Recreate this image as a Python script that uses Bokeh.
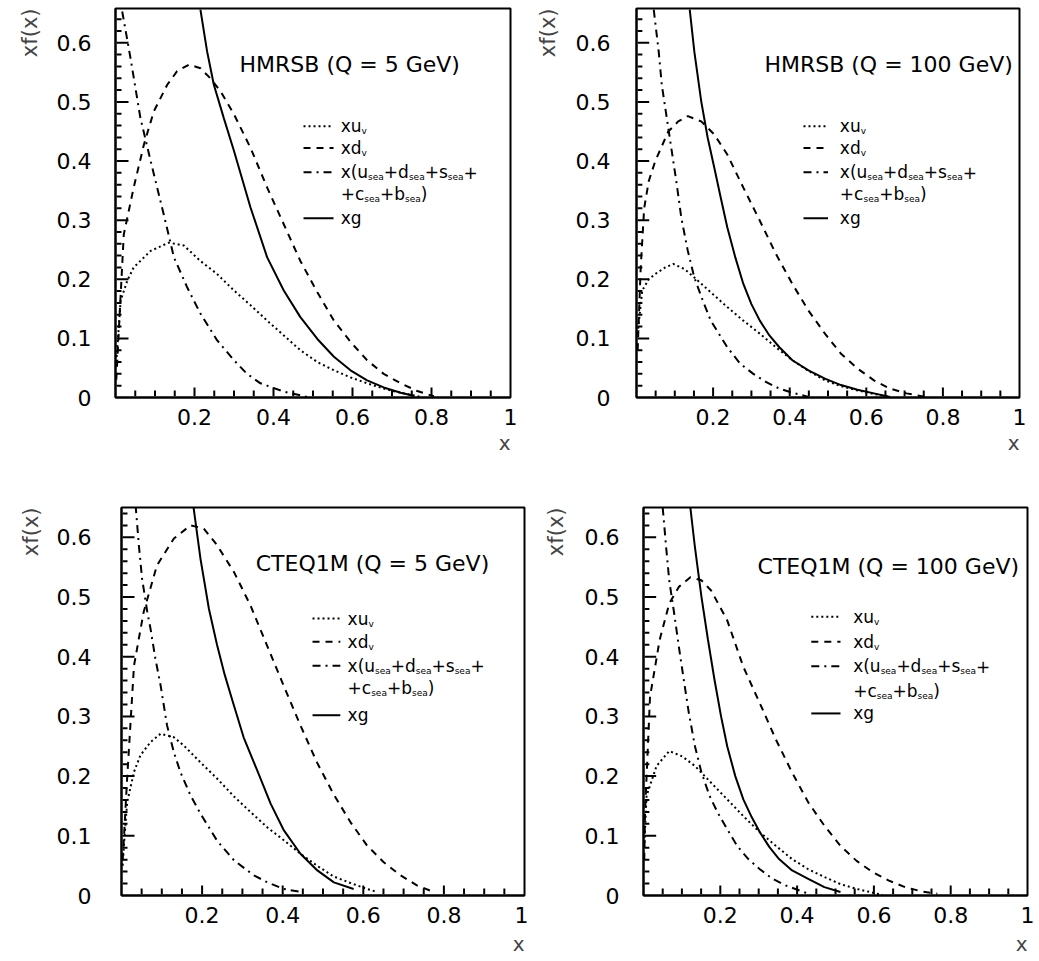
from bokeh.plotting import figure
from bokeh.models import Range1d, FixedTicker, NumeralTickFormatter, ColumnDataSource, Title
from bokeh.layouts import column, row
from bokeh.core.properties import value
from bokeh.embed import file_html
from bokeh.resources import INLINE

FONT = "DejaVu Sans"

# ---------------- data ----------------
titles = ["HMRSB (Q = 5 GeV)", "HMRSB (Q = 100 GeV)", "CTEQ1M (Q = 5 GeV)", "CTEQ1M (Q = 100 GeV)"]

# Panel 1: HMRSB, Q = 5 GeV
hm5_uv_x = [0.002, 0.013, 0.030, 0.046, 0.089, 0.135, 0.173, 0.215, 0.257, 0.30, 0.342, 0.384, 0.426, 0.468, 0.511, 0.553, 0.595, 0.637, 0.679, 0.722, 0.772]
hm5_uv_y = [0.06, 0.164, 0.198, 0.22, 0.248, 0.262, 0.257, 0.231, 0.209, 0.181, 0.156, 0.130, 0.105, 0.080, 0.060, 0.046, 0.034, 0.024, 0.015, 0.008, 0.001]
hm5_dv_x = [0.002, 0.008, 0.021, 0.046, 0.072, 0.097, 0.131, 0.156, 0.186, 0.215, 0.24, 0.266, 0.30, 0.342, 0.384, 0.426, 0.468, 0.511, 0.553, 0.595, 0.637, 0.679, 0.722, 0.764, 0.806]
hm5_dv_y = [0.03, 0.108, 0.276, 0.355, 0.428, 0.484, 0.529, 0.552, 0.563, 0.557, 0.54, 0.518, 0.479, 0.422, 0.355, 0.293, 0.231, 0.178, 0.130, 0.094, 0.063, 0.040, 0.024, 0.011, 0.002]
hm5_sea_x = [0.017, 0.038, 0.063, 0.089, 0.122, 0.148, 0.181, 0.215, 0.257, 0.30, 0.333, 0.367, 0.426, 0.485]
hm5_sea_y = [0.653, 0.574, 0.473, 0.40, 0.31, 0.237, 0.187, 0.142, 0.097, 0.063, 0.040, 0.024, 0.010, 0.001]
hm5_g_x = [0.215, 0.232, 0.249, 0.274, 0.30, 0.342, 0.384, 0.426, 0.468, 0.511, 0.553, 0.595, 0.637, 0.679, 0.722, 0.755]
hm5_g_y = [0.656, 0.585, 0.529, 0.473, 0.417, 0.321, 0.237, 0.181, 0.136, 0.099, 0.069, 0.046, 0.029, 0.017, 0.008, 0.003]

# Panel 2: HMRSB, Q = 100 GeV
hm100_uv_x = [0.003, 0.015, 0.032, 0.049, 0.075, 0.096, 0.126, 0.151, 0.194, 0.237, 0.279, 0.322, 0.364, 0.407, 0.449, 0.492, 0.534, 0.577, 0.62, 0.662]
hm100_uv_y = [0.108, 0.181, 0.20, 0.209, 0.22, 0.226, 0.217, 0.203, 0.178, 0.153, 0.130, 0.108, 0.085, 0.063, 0.045, 0.029, 0.019, 0.012, 0.006, 0.001]
hm100_dv_x = [0.003, 0.011, 0.02, 0.032, 0.049, 0.083, 0.109, 0.134, 0.169, 0.203, 0.237, 0.279, 0.322, 0.364, 0.407, 0.449, 0.492, 0.534, 0.577, 0.62, 0.662, 0.705, 0.764]
hm100_dv_y = [0.08, 0.22, 0.32, 0.366, 0.40, 0.45, 0.467, 0.476, 0.467, 0.445, 0.411, 0.355, 0.299, 0.243, 0.192, 0.147, 0.108, 0.074, 0.049, 0.029, 0.015, 0.007, 0.0]
hm100_sea_x = [0.045, 0.058, 0.066, 0.079, 0.092, 0.105, 0.117, 0.134, 0.151, 0.173, 0.194, 0.237, 0.271, 0.305, 0.339, 0.373, 0.407, 0.449]
hm100_sea_y = [0.656, 0.585, 0.529, 0.473, 0.417, 0.361, 0.304, 0.248, 0.203, 0.164, 0.130, 0.085, 0.057, 0.040, 0.026, 0.015, 0.008, 0.001]
hm100_g_x = [0.139, 0.151, 0.169, 0.186, 0.203, 0.220, 0.237, 0.258, 0.279, 0.30, 0.322, 0.347, 0.373, 0.407, 0.449, 0.492, 0.534, 0.577, 0.62, 0.662]
hm100_g_y = [0.656, 0.585, 0.501, 0.439, 0.389, 0.338, 0.288, 0.237, 0.192, 0.158, 0.130, 0.105, 0.085, 0.063, 0.046, 0.032, 0.021, 0.013, 0.007, 0.001]

# Panel 3: CTEQ1M, Q = 5 GeV
ct5_uv_x = [0.003, 0.006, 0.014, 0.031, 0.047, 0.072, 0.097, 0.13, 0.155, 0.196, 0.237, 0.279, 0.32, 0.362, 0.402, 0.444, 0.485, 0.526, 0.568, 0.609, 0.634]
ct5_uv_y = [0.05, 0.084, 0.156, 0.207, 0.235, 0.257, 0.271, 0.265, 0.251, 0.223, 0.196, 0.166, 0.14, 0.114, 0.093, 0.07, 0.05, 0.032, 0.021, 0.011, 0.006]
ct5_dv_x = [0.003, 0.014, 0.031, 0.055, 0.088, 0.13, 0.171, 0.204, 0.237, 0.279, 0.32, 0.361, 0.402, 0.444, 0.485, 0.526, 0.568, 0.609, 0.65, 0.692, 0.733, 0.774]
ct5_dv_y = [0.06, 0.196, 0.385, 0.475, 0.553, 0.598, 0.62, 0.615, 0.587, 0.542, 0.486, 0.419, 0.352, 0.285, 0.223, 0.17, 0.123, 0.084, 0.056, 0.034, 0.017, 0.006]
ct5_sea_x = [0.035, 0.043, 0.051, 0.064, 0.072, 0.084, 0.097, 0.113, 0.13, 0.146, 0.171, 0.196, 0.237, 0.279, 0.328, 0.362, 0.402, 0.444]
ct5_sea_y = [0.654, 0.587, 0.531, 0.475, 0.447, 0.397, 0.352, 0.285, 0.24, 0.207, 0.168, 0.137, 0.092, 0.059, 0.034, 0.022, 0.011, 0.006]
ct5_g_x = [0.178, 0.196, 0.217, 0.237, 0.256, 0.275, 0.303, 0.337, 0.370, 0.403, 0.444, 0.486, 0.527, 0.576]
ct5_g_y = [0.654, 0.564, 0.48, 0.42, 0.37, 0.327, 0.265, 0.209, 0.154, 0.109, 0.070, 0.042, 0.022, 0.011]

# Panel 4: CTEQ1M, Q = 100 GeV
ct100_uv_x = [0.002, 0.004, 0.008, 0.034, 0.067, 0.101, 0.134, 0.176, 0.218, 0.26, 0.303, 0.345, 0.387, 0.429, 0.471, 0.513, 0.555, 0.622]
ct100_uv_y = [0.08, 0.111, 0.167, 0.217, 0.242, 0.233, 0.217, 0.189, 0.161, 0.133, 0.106, 0.083, 0.061, 0.044, 0.031, 0.019, 0.011, 0.001]
ct100_dv_x = [0.002, 0.004, 0.017, 0.042, 0.067, 0.092, 0.122, 0.151, 0.176, 0.218, 0.26, 0.303, 0.345, 0.387, 0.429, 0.471, 0.513, 0.555, 0.597, 0.639, 0.681, 0.723, 0.765]
ct100_dv_y = [0.06, 0.139, 0.333, 0.428, 0.489, 0.517, 0.533, 0.528, 0.511, 0.461, 0.383, 0.322, 0.261, 0.206, 0.156, 0.117, 0.083, 0.058, 0.039, 0.025, 0.014, 0.007, 0.003]
ct100_sea_x = [0.05, 0.059, 0.067, 0.08, 0.092, 0.105, 0.118, 0.134, 0.151, 0.172, 0.193, 0.218, 0.244, 0.273, 0.303, 0.336, 0.37, 0.429]
ct100_sea_y = [0.65, 0.583, 0.528, 0.472, 0.417, 0.361, 0.306, 0.25, 0.206, 0.167, 0.139, 0.111, 0.083, 0.061, 0.044, 0.028, 0.017, 0.003]
ct100_g_x = [0.122, 0.134, 0.151, 0.168, 0.185, 0.202, 0.218, 0.239, 0.26, 0.282, 0.303, 0.328, 0.353, 0.387, 0.429, 0.471, 0.513]
ct100_g_y = [0.65, 0.583, 0.50, 0.428, 0.361, 0.30, 0.25, 0.20, 0.161, 0.131, 0.106, 0.081, 0.061, 0.042, 0.028, 0.014, 0.006]

x_ticks = [0.2, 0.4, 0.6, 0.8, 1.0]
y_ticks = [0.0, 0.1, 0.2, 0.3, 0.4, 0.5, 0.6]

legend_rows = [
    [("xu", 0), ("v", 1)],
    [("xd", 0), ("v", 1)],
    [("x(u", 0), ("sea", 1), ("+d", 0), ("sea", 1), ("+s", 0), ("sea", 1), ("+", 0)],
    [("+c", 0), ("sea", 1), ("+b", 0), ("sea", 1), (")", 0)],
    [("xg", 0)],
]
# ----------------------------------------------------------------

DASH = {"uv": "2 3", "dv": "7 6", "sea": "8 5 2 5", "g": "solid"}
CW = {'x': .592, 'u': .634, 'd': .635, '(': .390, ')': .390, '+': .838, 's': .521,
      'c': .550, 'b': .635, 'g': .635, 'e': .615, 'a': .613, 'v': .592, ' ': .318}
FS_MAIN, FS_SUB = 17, 9


def text_width(s, fs):
    return sum(CW.get(ch, .6) for ch in s) * fs


def make_panel(title, series, w, h, bl, br, bt, bb, ymax, ystand, xt_stand, yt_stand, title_pos, leg):
    fw = w - bl - br
    fh = h - bt - bb
    p = figure(width=w, height=h, x_range=Range1d(0, 1), y_range=Range1d(0, ymax),
               output_backend="svg", toolbar_location=None,
               min_border_left=bl, min_border_right=br, min_border_top=bt, min_border_bottom=bb,
               background_fill_color="white", border_fill_color="white")
    p.grid.visible = False
    p.outline_line_color = "black"
    p.outline_line_width = 2
    p.outline_line_alpha = 1

    p.xaxis.ticker = FixedTicker(ticks=x_ticks, minor_ticks=[])
    p.yaxis.ticker = FixedTicker(ticks=y_ticks, minor_ticks=[])
    p.xaxis.formatter = NumeralTickFormatter(format="0.[0]")
    p.yaxis.formatter = NumeralTickFormatter(format="0.[0]")
    for ax in (p.xaxis, p.yaxis):
        ax.axis_line_color = "black"
        ax.axis_line_width = 2
        ax.major_tick_line_color = None
        ax.minor_tick_line_color = None
        ax.major_tick_out = 0
        ax.minor_tick_out = 0
        ax.major_label_text_font = FONT
        ax.major_label_text_font_size = "22px"
        ax.major_label_text_color = "black"
    p.xaxis.major_label_standoff = 11
    p.yaxis.major_label_standoff = ystand

    p.add_layout(Title(text="x", align="right", text_font=FONT, text_font_size="20px",
                       text_font_style="normal", standoff=xt_stand), "below")
    p.add_layout(Title(text="xf(x)", align="right", text_font=FONT, text_font_size="21px",
                       text_font_style="normal", standoff=yt_stand), "left")

    for key, (xs, ys) in series.items():
        p.line(xs, ys, line_color="black", line_width=2, line_dash=DASH[key])

    # tick marks inside the frame, each one a short two-point line
    xmaj = x_ticks[:-1]
    xmin = [i * 0.05 for i in range(1, 20) if abs(i * 0.05 - round(i * 0.05 / 0.2) * 0.2) > 1e-6]
    ymaj = [t for t in y_ticks if t > 0]
    ymin = [i * 0.02 for i in range(1, 33) if i * 0.02 < ymax and abs(i * 0.02 - round(i * 0.02 / 0.1) * 0.1) > 1e-6]
    for xs_, ln in ((xmaj, 10), (xmin, 7)):
        for t in xs_:
            p.line([t, t], [0.002, ln / fh * ymax], line_color="black", line_width=2)
    for ys_, ln in ((ymaj, 13), (ymin, 6)):
        for t in ys_:
            p.line([0.003, ln / fw], [t, t], line_color="black", line_width=2)

    ttx, tty = title_pos
    p.text(x=[ttx], y=[tty], text=[title], text_font=value(FONT), text_font_size="22px",
           text_baseline="middle", text_align="left", text_color="black")

    lx0, lx1, lxt, lys = leg
    for key, yy in zip(["uv", "dv", "sea", None, "g"], lys):
        if key is not None:
            p.line([lx0, lx1], [yy, yy], line_color="black", line_width=2, line_dash=DASH[key])
    px, py, pt, pxo, pyo, pfs = [], [], [], [], [], []
    for pieces, yy in zip(legend_rows, lys):
        off = 0.0
        for s, sub in pieces:
            fs = FS_SUB if sub else FS_MAIN
            px.append(lxt); py.append(yy); pt.append(s)
            pxo.append(off); pyo.append(5 if sub else 0); pfs.append(f"{fs}px")
            off += text_width(s, fs)
    src = ColumnDataSource(dict(x=px, y=py, text=pt, xo=pxo, yo=pyo, fs=pfs))
    p.text(x="x", y="y", text="text", x_offset="xo", y_offset="yo", text_font_size="fs",
           source=src, text_font=value(FONT), text_baseline="middle", text_align="left",
           text_color="black")
    return p


f1 = make_panel(titles[0],
                {"uv": (hm5_uv_x, hm5_uv_y), "dv": (hm5_dv_x, hm5_dv_y),
                 "sea": (hm5_sea_x, hm5_sea_y), "g": (hm5_g_x, hm5_g_y)},
                520, 480, 115, 10, 8, 83, 0.658, 24, 2, 23, (0.314, 0.563),
                (0.476, 0.552, 0.570, [0.459, 0.422, 0.381, 0.344, 0.303]))
f2 = make_panel(titles[1],
                {"uv": (hm100_uv_x, hm100_uv_y), "dv": (hm100_dv_x, hm100_dv_y),
                 "sea": (hm100_sea_x, hm100_sea_y), "g": (hm100_g_x, hm100_g_y)},
                518, 480, 107, 19, 8, 83, 0.658, 26, 2, 26, (0.334, 0.563),
                (0.436, 0.500, 0.531, [0.459, 0.422, 0.381, 0.344, 0.303]))
f3 = make_panel(titles[2],
                {"uv": (ct5_uv_x, ct5_uv_y), "dv": (ct5_dv_x, ct5_dv_y),
                 "sea": (ct5_sea_x, ct5_sea_y), "g": (ct5_g_x, ct5_g_y)},
                528, 480, 121, 4, 27, 65, 0.65, 30, 8, 21, (0.333, 0.556),
                (0.474, 0.543, 0.561, [0.464, 0.425, 0.385, 0.347, 0.302]))
f4 = make_panel(titles[3],
                {"uv": (ct100_uv_x, ct100_uv_y), "dv": (ct100_dv_x, ct100_dv_y),
                 "sea": (ct100_sea_x, ct100_sea_y), "g": (ct100_g_x, ct100_g_y)},
                509, 480, 105, 10, 27, 65, 0.65, 24, 8, 27, (0.297, 0.551),
                (0.437, 0.513, 0.546, [0.467, 0.425, 0.384, 0.343, 0.305]))

layout = column(row(f1, f2), row(f3, f4))
open("out.html", "w").write(file_html(layout, INLINE))
